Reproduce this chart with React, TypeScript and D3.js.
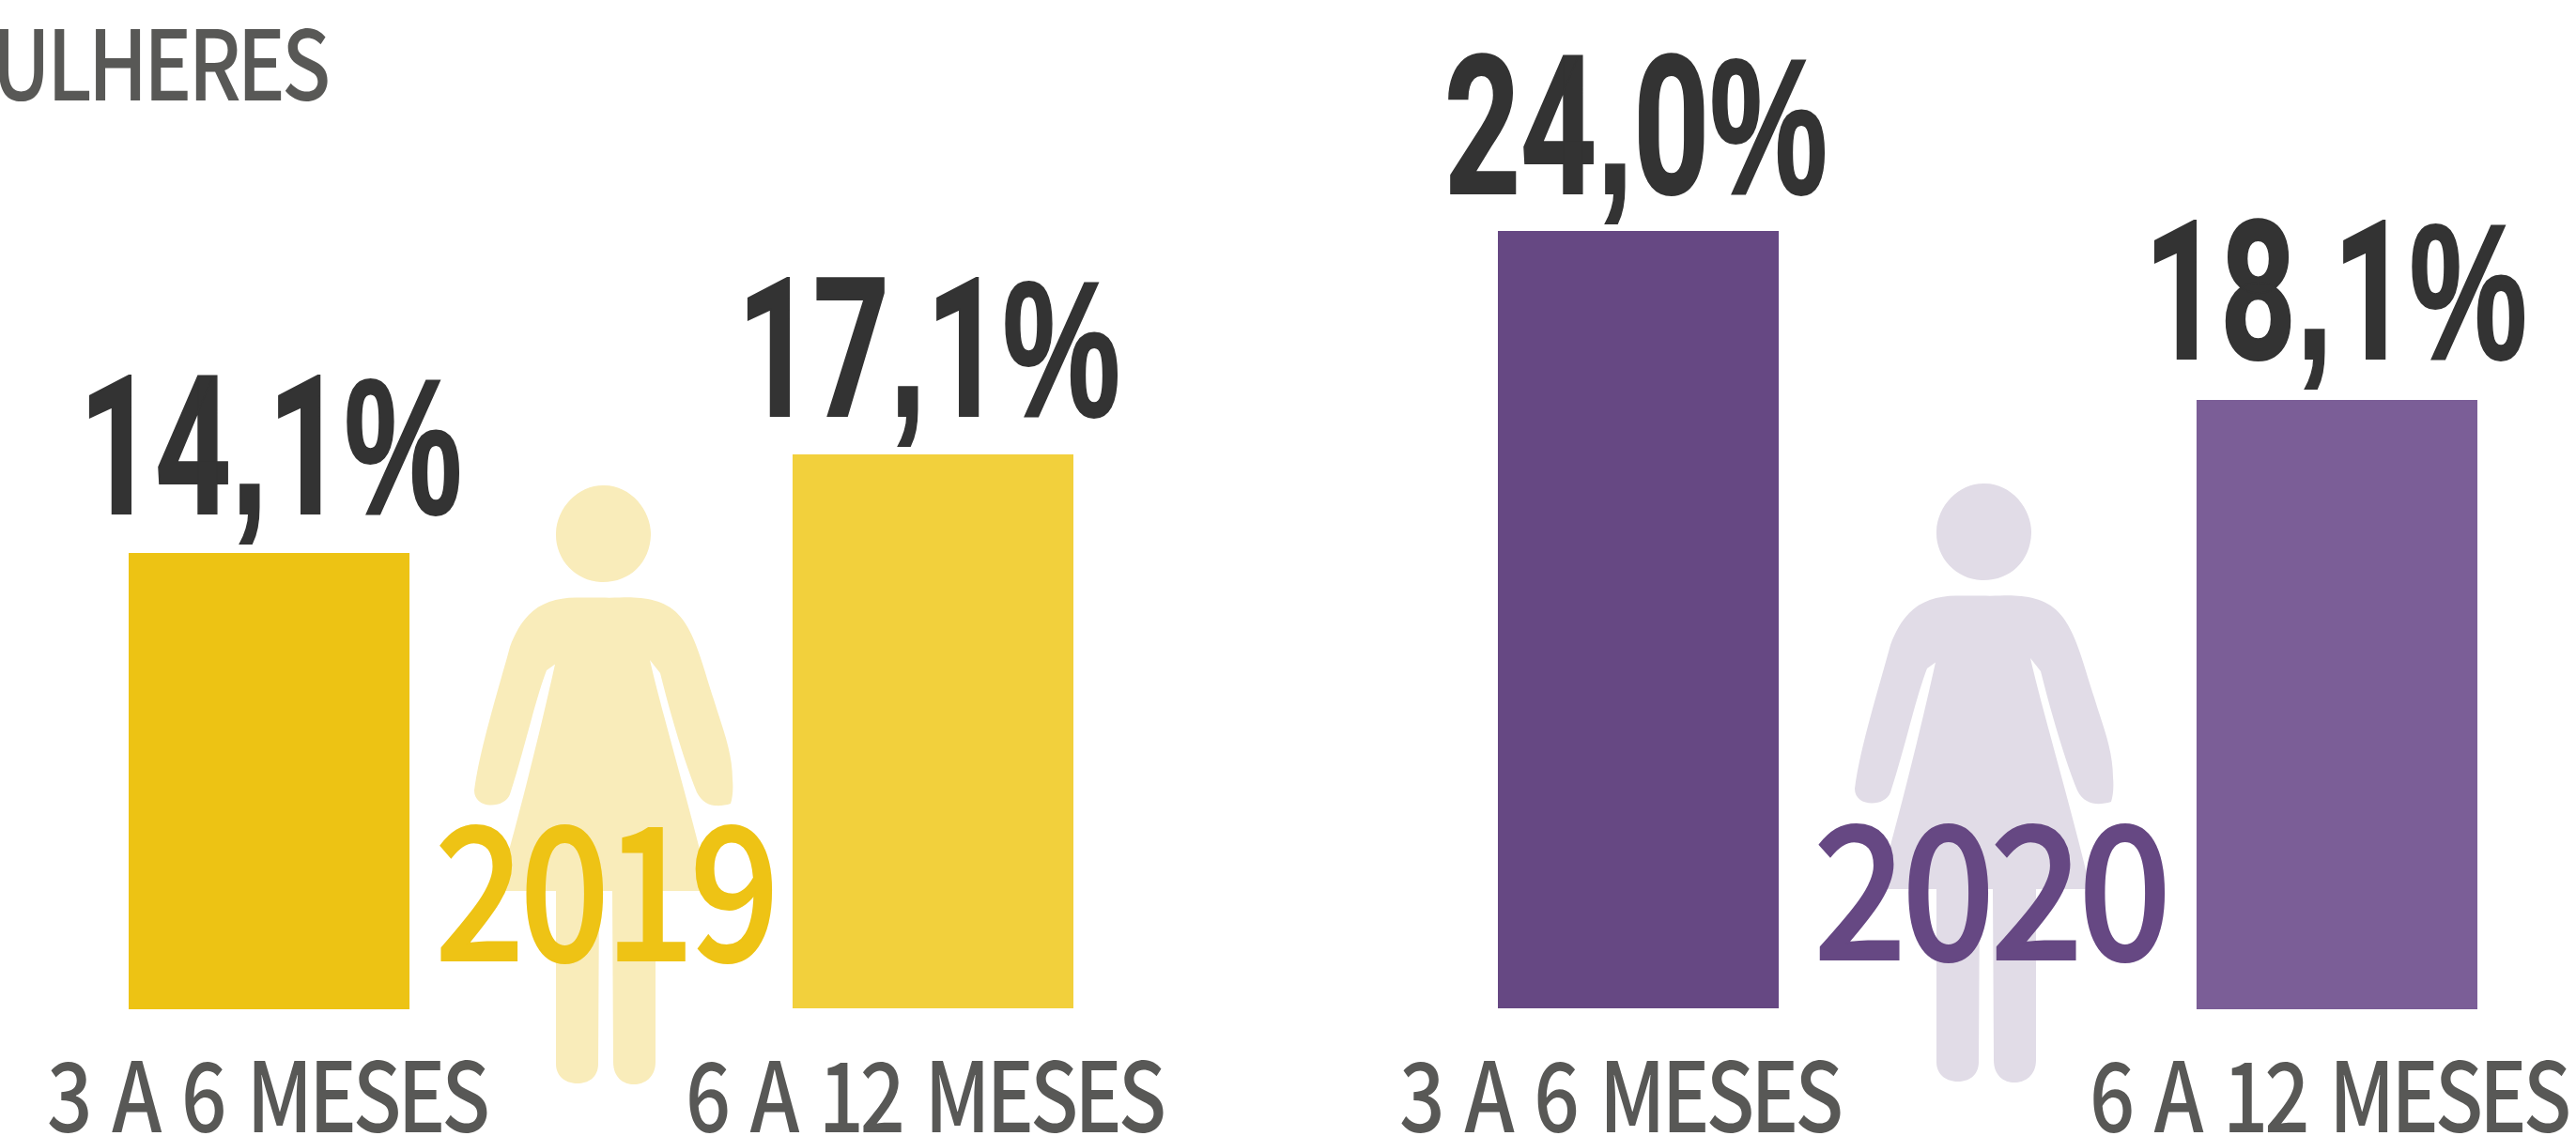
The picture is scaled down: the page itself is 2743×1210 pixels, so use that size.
import React, { useEffect, useRef } from "react";
import * as d3 from "d3";

const periods = ["3 A 6 MESES", "6 A 12 MESES"];
const years = ["2019", "2020"];

// bar lengths as drawn, the last 2020 bar stands taller than its printed 18,1%
const values2019 = [14.1, 17.1];
const values2020 = [24.0, 18.8];
const labels2019 = ["14,1%", "17,1%"];
const labels2020 = ["24,0%", "18,1%"];

const WIDTH = 2743;
const HEIGHT = 1210;
const GREY = "#585856";
const DARK = "#333333";
const SANS = "'Noto Sans CJK SC', 'Noto Sans'";

const FIGURE =
  "M642 517 C672 516 694 545 693 570 C692 600 670 621 640 620 C612 619 591 595 592 568 C593 540 616 517 642 517 Z " +
  "M640 636.5 C655 637 665 636 675 636.5 C695 637 715 643 727 660 C742 680 750 715 760 745 C768 772 780 800 780 830 " +
  "C781 840 780 850 778 856 C765 860 750 860 742 844 C730 815 715 765 703 717 L692 703 C705 760 735 860 756 949 " +
  "L698 949 L698 1131 C698 1148 686 1155 675 1155 C664 1155 653 1148 653 1131 L652 949 L638 949 L637 1133 " +
  "C637 1148 626 1154 615 1154 C604 1154 592 1148 592 1133 L592 949 L530 949 C550 880 575 780 591 707.5 L582 714 " +
  "C570 745 558 800 543 846 C537 862 505 862 505 842 C510 800 532 730 543 689 C548 675 555 663 563 655 " +
  "C575 642 595 636 615 636.5 Z";

// one entry per panel: where things sit in the picture
const panels = [
  {
    year: years[0],
    values: values2019,
    labels: labels2019,
    colors: ["#EDC314", "#F2D03C"],
    yearColor: "#EEC315",
    figureColor: "#F9ECBA",
    figureMove: "translate(0,0)",
    band: [137, 1143],
    padding: 0.577,
    baseShift: [1, 0],
    labelX: [84, 785],
    labelBase: [547, 443],
    periodX: [50, 730],
    periodW: [468, 508],
    yearX: 463,
    yearW: 362,
    yearBase: 1023,
  },
  {
    year: years[1],
    values: values2020,
    labels: labels2020,
    colors: ["#664883", "#7B5E97"],
    yearColor: "#664883",
    figureColor: "#E1DCE7",
    figureMove: "translate(1470,-2)",
    band: [1595, 2638],
    padding: 0.598,
    baseShift: [0, 1],
    labelX: [1538, 2283],
    labelBase: [206, 382],
    periodX: [1490, 2225],
    periodW: [469, 509],
    yearX: 1931,
    yearW: 376,
    yearBase: 1022,
  },
];

export default function App() {
  const ref = useRef<SVGSVGElement>(null);

  useEffect(() => {
    const svg = d3.select(ref.current);
    svg.selectAll("*").remove();

    const y = d3.scaleLinear().domain([0, 24]).rangeRound([1074, 246]);

    // title runs off the left edge of the page
    svg
      .append("text")
      .attr("x", -76)
      .attr("y", 107)
      .attr("textLength", 424)
      .attr("lengthAdjust", "spacingAndGlyphs")
      .attr("font-family", SANS)
      .attr("font-weight", 500)
      .attr("font-size", 103)
      .attr("letter-spacing", -5)
      .attr("fill", GREY)
      .text("MULHERES");

    panels.forEach((p) => {
      const x = d3.scaleBand().domain(periods).range(p.band).paddingInner(p.padding).paddingOuter(0);
      const g = svg.append("g");

      g.append("path").attr("d", FIGURE).attr("fill", p.figureColor).attr("transform", p.figureMove);

      g.selectAll("rect")
        .data(p.values)
        .join("rect")
        .attr("x", (_, i) => x(periods[i]))
        .attr("y", (d, i) => y(d) + p.baseShift[i])
        .attr("width", x.bandwidth())
        .attr("height", (d) => y(0) - y(d))
        .attr("fill", (_, i) => p.colors[i]);

      // digits and the comma/percent come from different fonts
      g.selectAll(".value")
        .data(p.labels)
        .join("text")
        .attr("class", "value")
        .attr("x", (_, i) => p.labelX[i])
        .attr("y", (_, i) => p.labelBase[i])
        .attr("textLength", 408)
        .attr("lengthAdjust", "spacingAndGlyphs")
        .attr("font-weight", 700)
        .attr("font-size", 206)
        .attr("stroke", DARK)
        .attr("stroke-width", 2)
        .attr("fill", DARK)
        .each(function (d) {
          d3.select(this)
            .selectAll("tspan")
            .data(d.match(/\d+|[,%]/g))
            .join("tspan")
            .attr("font-family", (s) => (/\d/.test(s) ? "Roboto" : "'Liberation Sans'"))
            .text((s) => s);
        });

      g.selectAll(".period")
        .data(periods)
        .join("text")
        .attr("class", "period")
        .attr("x", (_, i) => p.periodX[i])
        .attr("y", 1206)
        .attr("textLength", (_, i) => p.periodW[i])
        .attr("lengthAdjust", "spacingAndGlyphs")
        .attr("font-family", SANS)
        .attr("font-weight", 500)
        .attr("font-size", 103)
        .attr("letter-spacing", -5)
        .attr("word-spacing", 12)
        .attr("fill", GREY)
        .text((d) => d);

      g.append("text")
        .attr("x", p.yearX)
        .attr("y", p.yearBase)
        .attr("textLength", p.yearW)
        .attr("lengthAdjust", "spacingAndGlyphs")
        .attr("font-family", SANS)
        .attr("font-weight", 500)
        .attr("font-size", 197)
        .attr("letter-spacing", -6)
        .attr("stroke", p.yearColor)
        .attr("stroke-width", 2)
        .attr("fill", p.yearColor)
        .text(p.year);
    });
  }, []);

  return (
    <svg
      ref={ref}
      width={WIDTH}
      height={HEIGHT}
      style={{ position: "absolute", left: 0, top: 0, background: "#fff" }}
    />
  );
}
